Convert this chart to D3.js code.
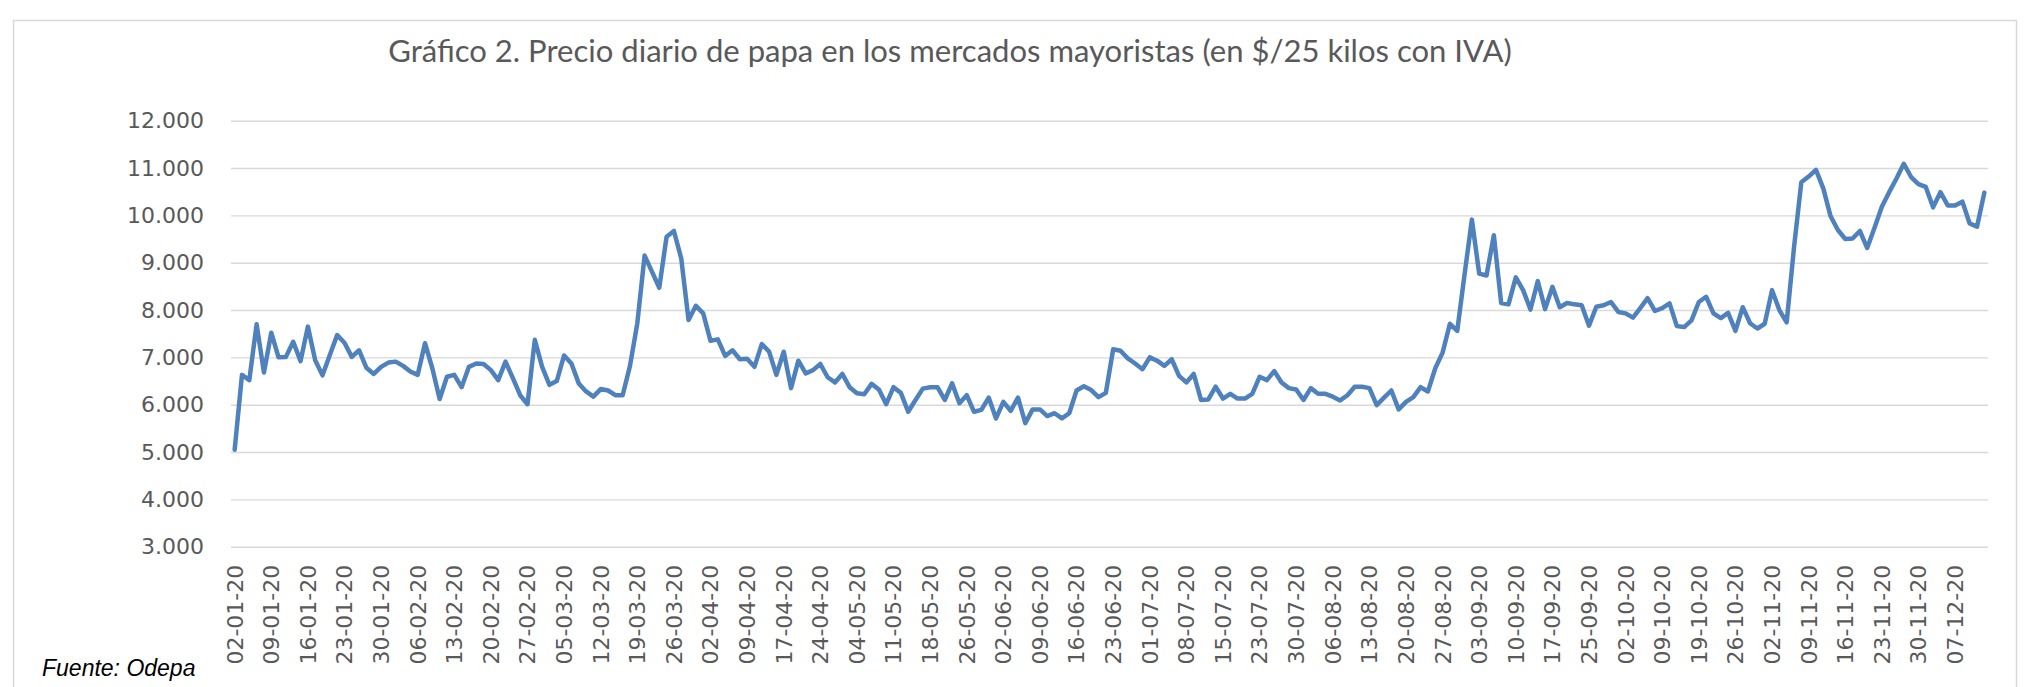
<!DOCTYPE html>
<html lang="es">
  <head>
    <meta charset="UTF-8" />
    <title>Precio diario de papa</title>
    <style>
      body { margin: 0; background: #fff; }
    </style>
  </head>
  <body>
    <svg id="chart" width="2027" height="687"></svg>
    <script src="https://cdn.jsdelivr.net/npm/d3@7"></script>
    <script>
      var width = 2027;
      var height = 687;

      // etiquetas del eje x (una cada 5 días hábiles)
      var tickLabels = [
        '02-01-20', '09-01-20', '16-01-20', '23-01-20', '30-01-20', '06-02-20',
        '13-02-20', '20-02-20', '27-02-20', '05-03-20', '12-03-20', '19-03-20',
        '26-03-20', '02-04-20', '09-04-20', '17-04-20', '24-04-20', '04-05-20',
        '11-05-20', '18-05-20', '26-05-20', '02-06-20', '09-06-20', '16-06-20',
        '23-06-20', '01-07-20', '08-07-20', '15-07-20', '23-07-20', '30-07-20',
        '06-08-20', '13-08-20', '20-08-20', '27-08-20', '03-09-20', '10-09-20',
        '17-09-20', '25-09-20', '02-10-20', '09-10-20', '19-10-20', '26-10-20',
        '02-11-20', '09-11-20', '16-11-20', '23-11-20', '30-11-20', '07-12-20'
      ];
      var labelStep = 5;

      // precio diario ($/25 kg con IVA)
      var prices = [
        5050, 6630, 6520, 7700, 6680, 7520, 7000, 7010, 7330, 6920,
        7650, 6940, 6620, 7050, 7470, 7310, 7010, 7150, 6780, 6650,
        6800, 6890, 6910, 6820, 6700, 6630, 7300, 6770, 6120, 6590,
        6630, 6370, 6800, 6870, 6860, 6730, 6520, 6910, 6560, 6200,
        6010, 7370, 6800, 6420, 6500, 7040, 6870, 6450, 6280, 6170,
        6330, 6300, 6200, 6200, 6820, 7720, 9150, 8810, 8470, 9550,
        9670, 9090, 7790, 8090, 7930, 7350, 7380, 7030, 7150, 6960,
        6970, 6800, 7280, 7120, 6630, 7120, 6350, 6930, 6660, 6730,
        6860, 6580, 6470, 6650, 6370, 6240, 6220, 6440, 6320, 6010,
        6370, 6250, 5850, 6100, 6340, 6370, 6370, 6100, 6450, 6030,
        6200, 5850, 5890, 6150, 5710, 6060, 5870, 6150, 5610, 5900,
        5900, 5760, 5820, 5710, 5820, 6300, 6390, 6310, 6160, 6250,
        7170, 7140, 6980, 6870, 6750, 7000, 6930, 6820, 6960, 6610,
        6470, 6650, 6100, 6110, 6380, 6130, 6230, 6130, 6130, 6230,
        6590, 6520, 6710, 6470, 6350, 6320, 6100, 6350, 6230, 6230,
        6170, 6090, 6200, 6380, 6380, 6350, 5990, 6150, 6300, 5900,
        6060, 6160, 6370, 6280, 6770, 7100, 7710, 7560, 8750, 9910,
        8770, 8730, 9580, 8150, 8120, 8690, 8420, 8010, 8610, 8020,
        8490, 8060, 8150, 8120, 8100, 7670, 8070, 8100, 8170, 7960,
        7930, 7840, 8040, 8250, 7980, 8040, 8140, 7660, 7640, 7780,
        8170, 8280, 7930, 7830, 7940, 7560, 8060, 7720, 7610, 7710,
        8420, 8000, 7740, 9320, 10700, 10820, 10960, 10570, 9980, 9690,
        9500, 9510, 9670, 9310, 9740, 10180, 10490, 10780, 11090, 10810,
        10660, 10600, 10170, 10490, 10210, 10210, 10290, 9830, 9760, 10480
      ];

      var yTicks = [3000, 4000, 5000, 6000, 7000, 8000, 9000, 10000, 11000, 12000];

      var title = 'Gráfico 2. Precio diario de papa en los mercados mayoristas (en $/25 kilos con IVA)';
      var source = 'Fuente: Odepa';

      var margin = { top: 120.7, right: 39, bottom: 140.3, left: 231 };

      var svg = d3.select('#chart');

      // marco del gráfico
      svg.append('rect')
        .attr('x', 13.5)
        .attr('y', 20.5)
        .attr('width', 2003)
        .attr('height', 700)
        .attr('fill', '#fff')
        .attr('stroke', '#d9d9d9')
        .attr('stroke-width', 1.5);

      var x = d3.scaleBand()
        .domain(d3.range(prices.length))
        .range([margin.left, width - margin.right])
        .padding(0);

      var y = d3.scaleLinear()
        .domain([3000, 12000])
        .range([height - margin.bottom, margin.top]);

      // miles con punto: 12.000
      var fmtThousands = d => d3.format(',')(d).replace(/,/g, '.');

      // eje y: líneas de división y etiquetas
      var yAxis = d3.axisLeft(y)
        .tickValues(yTicks)
        .tickSize(-(width - margin.right - margin.left))
        .tickPadding(27)
        .tickFormat(fmtThousands);

      var gy = svg.append('g')
        .attr('transform', `translate(${margin.left},0)`)
        .call(yAxis);
      gy.select('.domain').remove();
      gy.selectAll('.tick line')
        .attr('stroke', '#d9d9d9')
        .attr('stroke-width', 1.4);
      gy.selectAll('.tick text')
        .attr('fill', '#595959')
        .style('font', '22px "DejaVu Sans"');

      // eje x: etiquetas giradas cada 5 días
      var xAxis = d3.axisBottom(x)
        .tickValues(d3.range(0, prices.length, labelStep))
        .tickSize(0)
        .tickFormat(i => tickLabels[i / labelStep]);

      var gx = svg.append('g')
        .attr('transform', `translate(0,${height - margin.bottom})`)
        .call(xAxis);
      gx.select('.domain').remove();
      gx.selectAll('.tick text')
        .attr('fill', '#595959')
        .style('font', '22px "DejaVu Sans"')
        .attr('text-anchor', 'end')
        .attr('transform', 'rotate(-90)')
        .attr('x', -18)
        .attr('y', 0)
        .attr('dy', '0.36em');

      // serie de precios
      var line = d3.line()
        .x((d, i) => x(i) + x.bandwidth() / 2)
        .y(d => y(d));

      svg.append('path')
        .datum(prices)
        .attr('fill', 'none')
        .attr('stroke', '#4f81bd')
        .attr('stroke-width', 4.5)
        .attr('stroke-linejoin', 'round')
        .attr('stroke-linecap', 'round')
        .attr('d', line);

      // título, ajustado al ancho del original
      var t = svg.append('text')
        .attr('x', 950)
        .attr('y', 62)
        .attr('text-anchor', 'middle')
        .attr('fill', '#595959')
        .style('font-family', 'Lato')
        .style('font-size', '28px')
        .text(title);
      var len = t.node().getComputedTextLength();
      t.style('font-size', (28 * 1124 / len).toFixed(2) + 'px');

      // fuente
      svg.append('text')
        .attr('x', 42)
        .attr('y', 676)
        .attr('fill', '#000')
        .style('font', 'italic 23px "Liberation Sans"')
        .text(source);
    </script>
  </body>
</html>
